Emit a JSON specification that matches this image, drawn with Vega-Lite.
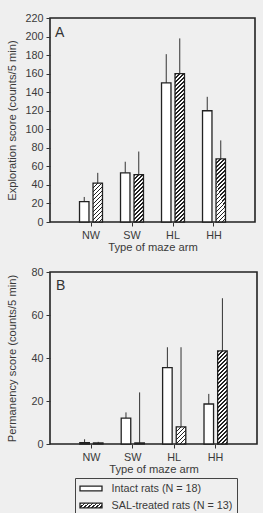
{
  "$schema": "https://vega.github.io/schema/vega-lite/v6.json",
  "background": "#efefef",
  "padding": {"left": 5, "top": 11, "right": 5, "bottom": 0},
  "params": [
    {
      "name": "hatchStops",
      "value": [
        {"offset": 0, "color": "#222"}, {"offset": 0.011, "color": "#222"}, {"offset": 0.011, "color": "#fff"}, {"offset": 0.025, "color": "#fff"},
        {"offset": 0.025, "color": "#222"}, {"offset": 0.036, "color": "#222"}, {"offset": 0.036, "color": "#fff"}, {"offset": 0.05, "color": "#fff"},
        {"offset": 0.05, "color": "#222"}, {"offset": 0.061, "color": "#222"}, {"offset": 0.061, "color": "#fff"}, {"offset": 0.075, "color": "#fff"},
        {"offset": 0.075, "color": "#222"}, {"offset": 0.086, "color": "#222"}, {"offset": 0.086, "color": "#fff"}, {"offset": 0.1, "color": "#fff"},
        {"offset": 0.1, "color": "#222"}, {"offset": 0.111, "color": "#222"}, {"offset": 0.111, "color": "#fff"}, {"offset": 0.125, "color": "#fff"},
        {"offset": 0.125, "color": "#222"}, {"offset": 0.136, "color": "#222"}, {"offset": 0.136, "color": "#fff"}, {"offset": 0.15, "color": "#fff"},
        {"offset": 0.15, "color": "#222"}, {"offset": 0.161, "color": "#222"}, {"offset": 0.161, "color": "#fff"}, {"offset": 0.175, "color": "#fff"},
        {"offset": 0.175, "color": "#222"}, {"offset": 0.186, "color": "#222"}, {"offset": 0.186, "color": "#fff"}, {"offset": 0.2, "color": "#fff"},
        {"offset": 0.2, "color": "#222"}, {"offset": 0.211, "color": "#222"}, {"offset": 0.211, "color": "#fff"}, {"offset": 0.225, "color": "#fff"},
        {"offset": 0.225, "color": "#222"}, {"offset": 0.236, "color": "#222"}, {"offset": 0.236, "color": "#fff"}, {"offset": 0.25, "color": "#fff"},
        {"offset": 0.25, "color": "#222"}, {"offset": 0.261, "color": "#222"}, {"offset": 0.261, "color": "#fff"}, {"offset": 0.275, "color": "#fff"},
        {"offset": 0.275, "color": "#222"}, {"offset": 0.286, "color": "#222"}, {"offset": 0.286, "color": "#fff"}, {"offset": 0.3, "color": "#fff"},
        {"offset": 0.3, "color": "#222"}, {"offset": 0.311, "color": "#222"}, {"offset": 0.311, "color": "#fff"}, {"offset": 0.325, "color": "#fff"},
        {"offset": 0.325, "color": "#222"}, {"offset": 0.336, "color": "#222"}, {"offset": 0.336, "color": "#fff"}, {"offset": 0.35, "color": "#fff"},
        {"offset": 0.35, "color": "#222"}, {"offset": 0.361, "color": "#222"}, {"offset": 0.361, "color": "#fff"}, {"offset": 0.375, "color": "#fff"},
        {"offset": 0.375, "color": "#222"}, {"offset": 0.386, "color": "#222"}, {"offset": 0.386, "color": "#fff"}, {"offset": 0.4, "color": "#fff"},
        {"offset": 0.4, "color": "#222"}, {"offset": 0.411, "color": "#222"}, {"offset": 0.411, "color": "#fff"}, {"offset": 0.425, "color": "#fff"},
        {"offset": 0.425, "color": "#222"}, {"offset": 0.436, "color": "#222"}, {"offset": 0.436, "color": "#fff"}, {"offset": 0.45, "color": "#fff"},
        {"offset": 0.45, "color": "#222"}, {"offset": 0.461, "color": "#222"}, {"offset": 0.461, "color": "#fff"}, {"offset": 0.475, "color": "#fff"},
        {"offset": 0.475, "color": "#222"}, {"offset": 0.486, "color": "#222"}, {"offset": 0.486, "color": "#fff"}, {"offset": 0.5, "color": "#fff"},
        {"offset": 0.5, "color": "#222"}, {"offset": 0.511, "color": "#222"}, {"offset": 0.511, "color": "#fff"}, {"offset": 0.525, "color": "#fff"},
        {"offset": 0.525, "color": "#222"}, {"offset": 0.536, "color": "#222"}, {"offset": 0.536, "color": "#fff"}, {"offset": 0.55, "color": "#fff"},
        {"offset": 0.55, "color": "#222"}, {"offset": 0.561, "color": "#222"}, {"offset": 0.561, "color": "#fff"}, {"offset": 0.575, "color": "#fff"},
        {"offset": 0.575, "color": "#222"}, {"offset": 0.586, "color": "#222"}, {"offset": 0.586, "color": "#fff"}, {"offset": 0.6, "color": "#fff"},
        {"offset": 0.6, "color": "#222"}, {"offset": 0.611, "color": "#222"}, {"offset": 0.611, "color": "#fff"}, {"offset": 0.625, "color": "#fff"},
        {"offset": 0.625, "color": "#222"}, {"offset": 0.636, "color": "#222"}, {"offset": 0.636, "color": "#fff"}, {"offset": 0.65, "color": "#fff"},
        {"offset": 0.65, "color": "#222"}, {"offset": 0.661, "color": "#222"}, {"offset": 0.661, "color": "#fff"}, {"offset": 0.675, "color": "#fff"},
        {"offset": 0.675, "color": "#222"}, {"offset": 0.686, "color": "#222"}, {"offset": 0.686, "color": "#fff"}, {"offset": 0.7, "color": "#fff"},
        {"offset": 0.7, "color": "#222"}, {"offset": 0.711, "color": "#222"}, {"offset": 0.711, "color": "#fff"}, {"offset": 0.725, "color": "#fff"},
        {"offset": 0.725, "color": "#222"}, {"offset": 0.736, "color": "#222"}, {"offset": 0.736, "color": "#fff"}, {"offset": 0.75, "color": "#fff"},
        {"offset": 0.75, "color": "#222"}, {"offset": 0.761, "color": "#222"}, {"offset": 0.761, "color": "#fff"}, {"offset": 0.775, "color": "#fff"},
        {"offset": 0.775, "color": "#222"}, {"offset": 0.786, "color": "#222"}, {"offset": 0.786, "color": "#fff"}, {"offset": 0.8, "color": "#fff"},
        {"offset": 0.8, "color": "#222"}, {"offset": 0.811, "color": "#222"}, {"offset": 0.811, "color": "#fff"}, {"offset": 0.825, "color": "#fff"},
        {"offset": 0.825, "color": "#222"}, {"offset": 0.836, "color": "#222"}, {"offset": 0.836, "color": "#fff"}, {"offset": 0.85, "color": "#fff"},
        {"offset": 0.85, "color": "#222"}, {"offset": 0.861, "color": "#222"}, {"offset": 0.861, "color": "#fff"}, {"offset": 0.875, "color": "#fff"},
        {"offset": 0.875, "color": "#222"}, {"offset": 0.886, "color": "#222"}, {"offset": 0.886, "color": "#fff"}, {"offset": 0.9, "color": "#fff"},
        {"offset": 0.9, "color": "#222"}, {"offset": 0.911, "color": "#222"}, {"offset": 0.911, "color": "#fff"}, {"offset": 0.925, "color": "#fff"},
        {"offset": 0.925, "color": "#222"}, {"offset": 0.936, "color": "#222"}, {"offset": 0.936, "color": "#fff"}, {"offset": 0.95, "color": "#fff"},
        {"offset": 0.95, "color": "#222"}, {"offset": 0.961, "color": "#222"}, {"offset": 0.961, "color": "#fff"}, {"offset": 0.975, "color": "#fff"},
        {"offset": 0.975, "color": "#222"}, {"offset": 0.986, "color": "#222"}, {"offset": 0.986, "color": "#fff"}, {"offset": 1, "color": "#fff"}
      ]
    }
  ],
  "datasets": {
    "exploration": [
      {"arm": "NW", "group": "Intact rats (N = 18)", "score": 22, "upper": 27},
      {"arm": "NW", "group": "SAL-treated rats (N = 13)", "score": 42, "upper": 53},
      {"arm": "SW", "group": "Intact rats (N = 18)", "score": 53, "upper": 65},
      {"arm": "SW", "group": "SAL-treated rats (N = 13)", "score": 51, "upper": 76},
      {"arm": "HL", "group": "Intact rats (N = 18)", "score": 150, "upper": 181},
      {"arm": "HL", "group": "SAL-treated rats (N = 13)", "score": 160, "upper": 198},
      {"arm": "HH", "group": "Intact rats (N = 18)", "score": 120, "upper": 135},
      {"arm": "HH", "group": "SAL-treated rats (N = 13)", "score": 68, "upper": 88}
    ],
    "permanency": [
      {"arm": "NW", "group": "Intact rats (N = 18)", "score": 0.6, "upper": 2.2},
      {"arm": "NW", "group": "SAL-treated rats (N = 13)", "score": 0.5, "upper": 1},
      {"arm": "SW", "group": "Intact rats (N = 18)", "score": 12, "upper": 14.7},
      {"arm": "SW", "group": "SAL-treated rats (N = 13)", "score": 0.5, "upper": 24},
      {"arm": "HL", "group": "Intact rats (N = 18)", "score": 35.5, "upper": 45},
      {"arm": "HL", "group": "SAL-treated rats (N = 13)", "score": 8, "upper": 45},
      {"arm": "HH", "group": "Intact rats (N = 18)", "score": 18.6, "upper": 23.3},
      {"arm": "HH", "group": "SAL-treated rats (N = 13)", "score": 43.3, "upper": 67.8}
    ]
  },
  "spacing": 11,
  "vconcat": [
    {
      "width": 205,
      "height": 204,
      "title": {"text": "A", "anchor": "start", "frame": "group", "offset": -39, "dx": 5, "baseline": "alphabetic"},
      "data": {"name": "exploration"},
      "layer": [
        {
          "mark": {"type": "rule", "color": "#333", "strokeWidth": 1},
          "encoding": {
            "x": {"field": "arm", "type": "nominal", "sort": ["NW", "SW", "HL", "HH"]},
            "xOffset": {"field": "group", "type": "nominal", "sort": null},
            "y": {"field": "score", "type": "quantitative"},
            "y2": {"field": "upper"}
          }
        },
        {
          "mark": {"type": "bar", "strokeWidth": 1.3},
          "encoding": {
            "x": {"field": "arm", "type": "nominal", "sort": ["NW", "SW", "HL", "HH"]},
            "xOffset": {"field": "group", "type": "nominal", "sort": null},
            "y": {"field": "score", "type": "quantitative"},
            "stroke": {
              "field": "group", "type": "nominal", "sort": null,
              "legend": {
                "encode": {
                  "symbols": {
                    "update": {
                      "fill": {"signal": "indexof('' + datum.value + datum.label, 'Intact') >= 0 ? '#fff' : {gradient: 'linear', x1: 0, y1: 0, x2: 160 * 22 / 509, y2: 160 * 5 / 509, stops: hatchStops}"}
                    }
                  }
                }
              }
            },
            "fill": {"value": {"expr": "indexof('' + datum.group + datum.value + datum.label, 'Intact') >= 0 ? '#fff' : (isValid(datum.score) ? {gradient: 'linear', x1: 0, y1: 0, x2: 160 * 9.5 / (90.25 + pow(datum.score * 0.926, 2)), y2: 160 * datum.score * 0.926 / (90.25 + pow(datum.score * 0.926, 2)), stops: hatchStops} : {gradient: 'linear', x1: 0, y1: 0, x2: 160 * 22 / 509, y2: 160 * 5 / 509, stops: hatchStops})"}}
          }
        }
      ],
      "encoding": {
        "x": {
          "field": "arm", "type": "nominal", "sort": ["NW", "SW", "HL", "HH"],
          "scale": {"paddingInner": 0.44, "paddingOuter": 0.72},
          "axis": {"title": "Type of maze arm", "labelAngle": 0}
        },
        "xOffset": {"field": "group", "type": "nominal", "sort": null, "scale": {"paddingInner": 0.3, "paddingOuter": 0}},
        "y": {
          "field": "score", "type": "quantitative",
          "scale": {"domain": [0, 220], "nice": false},
          "axis": {"title": "Exploration score (counts/5 min)", "values": [0, 20, 40, 60, 80, 100, 120, 140, 160, 180, 200, 220]}
        }
      }
    },
    {
      "width": 207,
      "height": 172,
      "title": {"text": "B", "anchor": "start", "frame": "group", "offset": -38, "dx": 6, "baseline": "alphabetic"},
      "data": {"name": "permanency"},
      "layer": [
        {
          "mark": {"type": "rule", "color": "#333", "strokeWidth": 1},
          "encoding": {
            "x": {"field": "arm", "type": "nominal", "sort": ["NW", "SW", "HL", "HH"]},
            "xOffset": {"field": "group", "type": "nominal", "sort": null},
            "y": {"field": "score", "type": "quantitative"},
            "y2": {"field": "upper"}
          }
        },
        {
          "mark": {"type": "bar", "strokeWidth": 1.3},
          "encoding": {
            "x": {"field": "arm", "type": "nominal", "sort": ["NW", "SW", "HL", "HH"]},
            "xOffset": {"field": "group", "type": "nominal", "sort": null},
            "y": {"field": "score", "type": "quantitative"},
            "stroke": {"field": "group", "type": "nominal", "sort": null},
            "fill": {"value": {"expr": "indexof('' + datum.group + datum.value + datum.label, 'Intact') >= 0 ? '#fff' : (isValid(datum.score) ? {gradient: 'linear', x1: 0, y1: 0, x2: 160 * 9.5 / (90.25 + pow(datum.score * 2.15, 2)), y2: 160 * datum.score * 2.15 / (90.25 + pow(datum.score * 2.15, 2)), stops: hatchStops} : {gradient: 'linear', x1: 0, y1: 0, x2: 160 * 22 / 509, y2: 160 * 5 / 509, stops: hatchStops})"}}
          }
        }
      ],
      "encoding": {
        "x": {
          "field": "arm", "type": "nominal", "sort": ["NW", "SW", "HL", "HH"],
          "scale": {"paddingInner": 0.44, "paddingOuter": 0.72},
          "axis": {"title": "Type of maze arm", "labelAngle": 0}
        },
        "xOffset": {"field": "group", "type": "nominal", "sort": null, "scale": {"paddingInner": 0.3, "paddingOuter": 0}},
        "y": {
          "field": "score", "type": "quantitative",
          "scale": {"domain": [0, 80], "nice": false},
          "axis": {"title": "Permanency score (counts/5 min)", "values": [0, 20, 40, 60, 80]}
        }
      }
    }
  ],
  "resolve": {
    "scale": {"x": "independent", "y": "independent", "xOffset": "independent", "stroke": "shared"},
    "legend": {"stroke": "shared"}
  },
  "config": {
    "font": "Liberation Sans",
    "view": {"stroke": "#222", "strokeWidth": 1.6},
    "range": {"category": ["#222", "#222"]},
    "title": {"fontSize": 14, "fontWeight": "normal", "color": "#333"},
    "axis": {
      "grid": false,
      "domain": false,
      "ticks": true,
      "tickSize": 4,
      "tickColor": "#333",
      "labelFont": "Liberation Sans",
      "labelFontSize": 10.8,
      "labelColor": "#3a3a3a",
      "labelPadding": 3,
      "titleFont": "Liberation Sans",
      "titleFontSize": 11.2,
      "titleFontWeight": "normal",
      "titleColor": "#3a3a3a"
    },
    "axisX": {"titlePadding": 2},
    "axisY": {"minExtent": 27, "titlePadding": 6},
    "legend": {
      "orient": "none",
      "legendX": 25,
      "legendY": 460,
      "direction": "vertical",
      "title": null,
      "symbolType": "M-2,-0.44H2V0.44H-2Z",
      "symbolSize": 121,
      "symbolOffset": 5.5,
      "symbolStrokeWidth": 1.3,
      "labelFont": "Liberation Sans",
      "labelFontSize": 10.8,
      "labelColor": "#3a3a3a",
      "labelOffset": 14,
      "rowPadding": 5,
      "padding": 4,
      "strokeColor": "#444"
    }
  }
}
